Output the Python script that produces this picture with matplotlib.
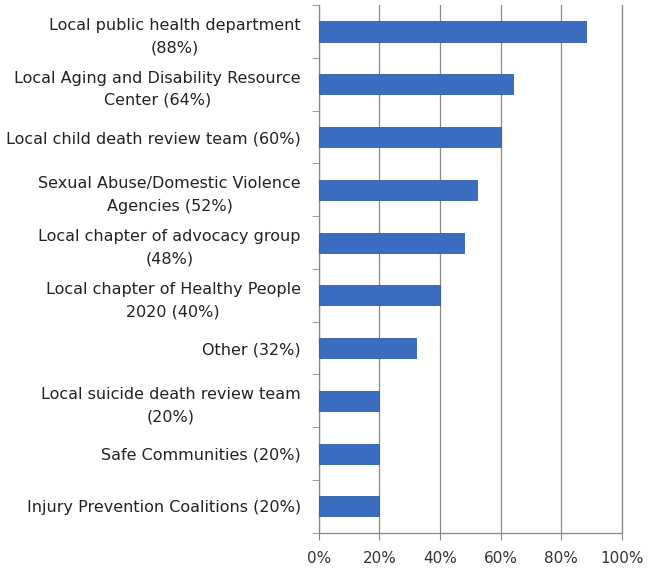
import numpy as np
import matplotlib
matplotlib.use("Agg")
import matplotlib.pyplot as plt

labels = [
    "Local public health department\n(88%)",
    "Local Aging and Disability Resource\nCenter (64%)",
    "Local child death review team (60%)",
    "Sexual Abuse/Domestic Violence\nAgencies (52%)",
    "Local chapter of advocacy group\n(48%)",
    "Local chapter of Healthy People\n2020 (40%)",
    "Other (32%)",
    "Local suicide death review team\n(20%)",
    "Safe Communities (20%)",
    "Injury Prevention Coalitions (20%)",
]
values = [88, 64, 60, 52, 48, 40, 32, 20, 20, 20]
xticks = [0, 20, 40, 60, 80, 100]

fig = plt.figure(figsize=(6.48, 5.71), dpi=100)
ax = fig.add_axes([0.492, 0.067, 0.468, 0.924])

y = np.arange(len(values))[::-1]
ax.barh(y, values, height=0.38, color="#3a6cc0", edgecolor="#2f5ea8", linewidth=0.6, zorder=3)

ax.set_xlim(0, 100)
ax.set_ylim(-0.5, len(values) - 0.5)
ax.set_xticks(xticks)
ax.set_xticklabels([f"{t}%" for t in xticks], fontsize=11, color="#333333")
ax.set_yticks(y)
ax.set_yticklabels(labels, fontsize=11.5, color="#222222",
                   multialignment="center", linespacing=1.6)
ax.set_yticks(np.arange(len(values) + 1) - 0.5, minor=True)
ax.tick_params(axis="y", which="major", length=0, pad=13)
ax.tick_params(axis="y", which="minor", length=5, color="#888888")
ax.tick_params(axis="x", length=5, color="#888888", pad=8)

ax.grid(axis="x", color="#888888", linewidth=0.9, zorder=0)
ax.spines["top"].set_visible(False)
for s in ["left", "bottom", "right"]:
    ax.spines[s].set_color("#888888")
    ax.spines[s].set_linewidth(0.9)

fig.savefig("out.png", dpi=100)
